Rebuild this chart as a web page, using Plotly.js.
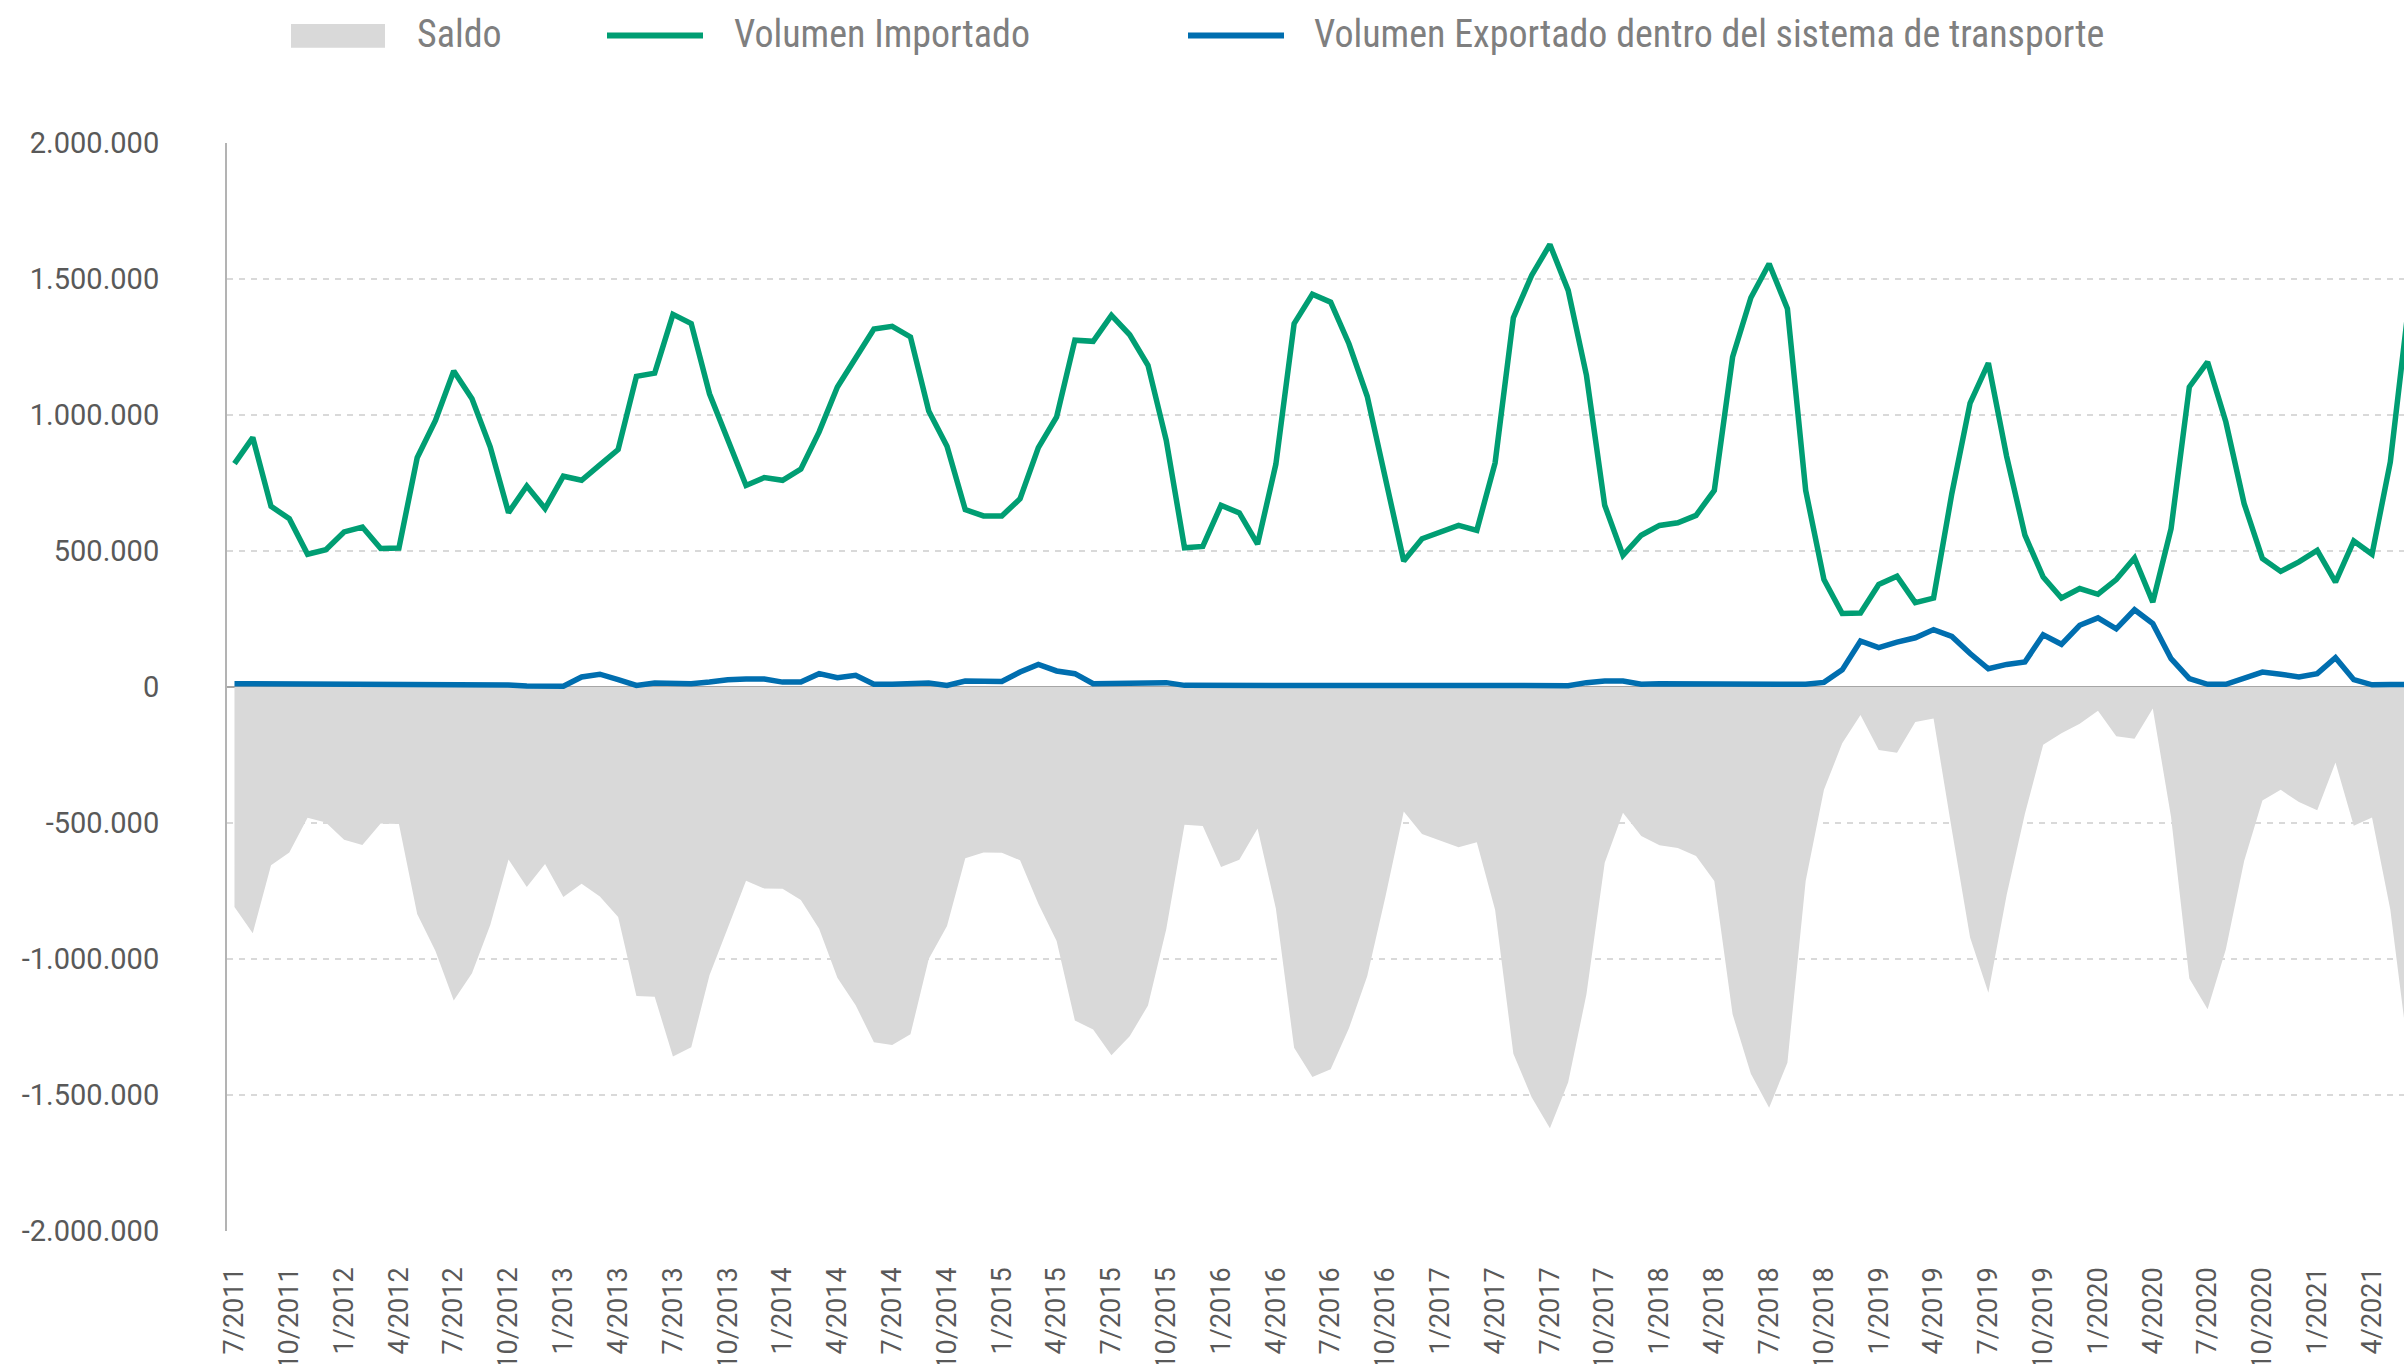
<!DOCTYPE html>
<html>
<head>
<meta charset="utf-8">
<script src="https://cdn.plot.ly/plotly-3.0.1.min.js"></script>
<style>
  html, body { margin: 0; padding: 0; background: #ffffff; }
  #chart { width: 2404px; height: 1364px; }
</style>
</head>
<body>
<div id="chart"></div>
<script>
// ---- Data ----
const months = [
  "7/2011","8/2011","9/2011","10/2011","11/2011","12/2011",
  "1/2012","2/2012","3/2012","4/2012","5/2012","6/2012","7/2012","8/2012","9/2012","10/2012","11/2012","12/2012",
  "1/2013","2/2013","3/2013","4/2013","5/2013","6/2013","7/2013","8/2013","9/2013","10/2013","11/2013","12/2013",
  "1/2014","2/2014","3/2014","4/2014","5/2014","6/2014","7/2014","8/2014","9/2014","10/2014","11/2014","12/2014",
  "1/2015","2/2015","3/2015","4/2015","5/2015","6/2015","7/2015","8/2015","9/2015","10/2015","11/2015","12/2015",
  "1/2016","2/2016","3/2016","4/2016","5/2016","6/2016","7/2016","8/2016","9/2016","10/2016","11/2016","12/2016",
  "1/2017","2/2017","3/2017","4/2017","5/2017","6/2017","7/2017","8/2017","9/2017","10/2017","11/2017","12/2017",
  "1/2018","2/2018","3/2018","4/2018","5/2018","6/2018","7/2018","8/2018","9/2018","10/2018","11/2018","12/2018",
  "1/2019","2/2019","3/2019","4/2019","5/2019","6/2019","7/2019","8/2019","9/2019","10/2019","11/2019","12/2019",
  "1/2020","2/2020","3/2020","4/2020","5/2020","6/2020","7/2020","8/2020","9/2020","10/2020","11/2020","12/2020",
  "1/2021","2/2021","3/2021","4/2021","5/2021","6/2021"
];

const volumenImportado = [
  821000, 917000, 664000, 619000, 488000, 505000,
  570000, 588000, 509000, 511000, 843000, 980000, 1162000, 1060000, 882000, 641000, 739000, 656000,
  775000, 760000, 817000, 873000, 1142000, 1154000, 1370000, 1336000, 1078000, 913000, 741000, 770000,
  760000, 801000, 938000, 1103000, 1213000, 1316000, 1326000, 1287000, 1015000, 885000, 652000, 629000,
  629000, 692000, 880000, 993000, 1275000, 1271000, 1366000, 1295000, 1183000, 907000, 512000, 517000,
  668000, 640000, 525000, 819000, 1336000, 1444000, 1415000, 1262000, 1069000, 775000, 463000, 545000,
  570000, 594000, 576000, 824000, 1358000, 1513000, 1627000, 1458000, 1146000, 668000, 484000, 558000,
  594000, 604000, 631000, 723000, 1213000, 1431000, 1556000, 1391000, 723000, 395000, 270000, 272000,
  377000, 407000, 310000, 327000, 711000, 1044000, 1191000, 848000, 558000, 404000, 327000, 362000,
  341000, 395000, 474000, 312000, 582000, 1103000, 1195000, 974000, 674000, 472000, 425000, 460000,
  502000, 386000, 537000, 488000, 827000, 1400000
];

const volumenExportado = [
  12000, 12000, 9000, 11000, 7000, 7000,
  8000, 7000, 7000, 7000, 8000, 9000, 9000, 8000, 7000, 7000, 4000, 5000,
  3000, 37000, 47000, 27000, 6000, 15000, 12000, 12000, 18000, 27000, 29000, 29000,
  18000, 18000, 49000, 34000, 43000, 10000, 10000, 10000, 15000, 6000, 22000, 21000,
  20000, 55000, 83000, 59000, 49000, 12000, 12000, 11000, 12000, 16000, 6000, 6000,
  6000, 5000, 5000, 5000, 10000, 10000, 10000, 7000, 6000, 5000, 5000, 5000,
  5000, 5000, 5000, 5000, 10000, 5000, 5000, 5000, 16000, 22000, 22000, 10000,
  12000, 12000, 10000, 10000, 10000, 9000, 9000, 10000, 10000, 17000, 63000, 169000,
  145000, 165000, 181000, 211000, 186000, 123000, 67000, 83000, 92000, 192000, 157000, 227000,
  254000, 214000, 284000, 233000, 104000, 31000, 10000, 10000, 34000, 55000, 47000, 37000,
  49000, 108000, 27000, 8000, 9000, 9000
];

const saldo = [
  -809000, -905000, -655000, -608000, -481000, -498000,
  -562000, -581000, -502000, -504000, -835000, -971000, -1153000, -1052000, -875000, -634000, -735000, -651000,
  -772000, -723000, -770000, -846000, -1136000, -1139000, -1358000, -1324000, -1060000, -886000, -712000, -741000,
  -742000, -783000, -889000, -1069000, -1170000, -1306000, -1316000, -1277000, -1000000, -879000, -630000, -608000,
  -609000, -637000, -797000, -934000, -1226000, -1259000, -1354000, -1284000, -1171000, -891000, -506000, -511000,
  -662000, -635000, -520000, -814000, -1326000, -1434000, -1405000, -1255000, -1063000, -770000, -458000, -540000,
  -565000, -589000, -571000, -819000, -1348000, -1508000, -1622000, -1453000, -1130000, -646000, -462000, -548000,
  -582000, -592000, -621000, -713000, -1203000, -1422000, -1547000, -1381000, -713000, -378000, -207000, -103000,
  -232000, -242000, -129000, -116000, -525000, -921000, -1124000, -765000, -466000, -212000, -170000, -135000,
  -87000, -181000, -190000, -79000, -478000, -1072000, -1185000, -964000, -640000, -417000, -378000, -423000,
  -453000, -278000, -510000, -480000, -818000, -1350000
];

const xTickLabels = [
  "7/2011","10/2011","1/2012","4/2012","7/2012","10/2012","1/2013","4/2013","7/2013","10/2013",
  "1/2014","4/2014","7/2014","10/2014","1/2015","4/2015","7/2015","10/2015","1/2016","4/2016",
  "7/2016","10/2016","1/2017","4/2017","7/2017","10/2017","1/2018","4/2018","7/2018","10/2018",
  "1/2019","4/2019","7/2019","10/2019","1/2020","4/2020","7/2020","10/2020","1/2021","4/2021"
];

const yTickValues = [2000000, 1500000, 1000000, 500000, 0, -500000, -1000000, -1500000, -2000000];
const yTickLabels = ["2.000.000","1.500.000","1.000.000","500.000","0","-500.000","-1.000.000","-1.500.000","-2.000.000"];

const seriesNames = ["Saldo", "Volumen Importado", "Volumen Exportado dentro del sistema de transporte"];

// ---- Styles ----
const GREEN = "#009e73";
const BLUE = "#006eaf";
const GREY_FILL = "#d9d9d9";
const FONT = "Roboto Condensed, Liberation Sans Narrow, Roboto, sans-serif";
const TICK_FONT = "Roboto, Open Sans, sans-serif";

const traces = [
  {
    x: months, y: saldo, name: seriesNames[0], type: "scatter", mode: "lines",
    fill: "tozeroy", fillcolor: GREY_FILL, line: { width: 0, color: GREY_FILL }
  },
  {
    x: months, y: volumenImportado, name: seriesNames[1], type: "scatter", mode: "lines",
    line: { width: 5.5, color: GREEN }
  },
  {
    x: months, y: volumenExportado, name: seriesNames[2], type: "scatter", mode: "lines",
    line: { width: 5.5, color: BLUE }
  }
];

// plot area in pixels
const L = 227, R = 0, T = 143, B = 133;
const PW = 2404 - L - R, PH = 1364 - T - B;
const px = v => (v - L) / PW;
const py = v => (1364 - B - v) / PH;

const legendY = 35.5;
const shapes = [
  { type: "rect", xref: "paper", yref: "paper", x0: px(291), x1: px(385), y0: py(47.7), y1: py(24),
    fillcolor: GREY_FILL, line: { width: 0 } },
  { type: "line", xref: "paper", yref: "paper", x0: px(607), x1: px(703), y0: py(legendY), y1: py(legendY),
    line: { color: GREEN, width: 6 } },
  { type: "line", xref: "paper", yref: "paper", x0: px(1188), x1: px(1284), y0: py(legendY), y1: py(legendY),
    line: { color: BLUE, width: 6 } }
];

const legFont = { family: FONT, size: 38, color: "#7f7f7f" };
const annotations = [
  { text: seriesNames[0], x: px(415), xanchor: "left" },
  { text: seriesNames[1], x: px(732), xanchor: "left" },
  { text: seriesNames[2], x: px(1312), xanchor: "left" }
].map(a => Object.assign({ xref: "paper", yref: "paper", y: py(34), yanchor: "middle",
  showarrow: false, font: legFont }, a));

const layout = {
  width: 2404, height: 1364,
  margin: { l: L, r: R, t: T, b: B, pad: 0 },
  paper_bgcolor: "#ffffff", plot_bgcolor: "#ffffff",
  showlegend: false,
  font: { family: FONT, color: "#595959" },
  xaxis: {
    type: "category",
    range: [-0.41, 118.75],
    tickmode: "array", tickvals: xTickLabels, ticktext: xTickLabels,
    tickangle: -90,
    tickfont: { family: TICK_FONT, size: 27, color: "#595959" },
    ticks: "", showgrid: false, showline: false, zeroline: false,
    ticklabelstandoff: 30
  },
  yaxis: {
    range: [-2000000, 2000000],
    tickmode: "array", tickvals: yTickValues, ticktext: yTickLabels,
    tickfont: { family: TICK_FONT, size: 29, color: "#595959" },
    ticks: "",
    showgrid: true, gridcolor: "#d9d9d9", gridwidth: 2, griddash: "6px,6px",
    zeroline: true, zerolinecolor: "#a6a6a6", zerolinewidth: 2,
    showline: true, linecolor: "#b3b3b3", linewidth: 2,
    ticklabelstandoff: 60
  },
  shapes: shapes,
  annotations: annotations
};

Plotly.newPlot("chart", traces, layout, { displayModeBar: false, staticPlot: true });
</script>
</body>
</html>
